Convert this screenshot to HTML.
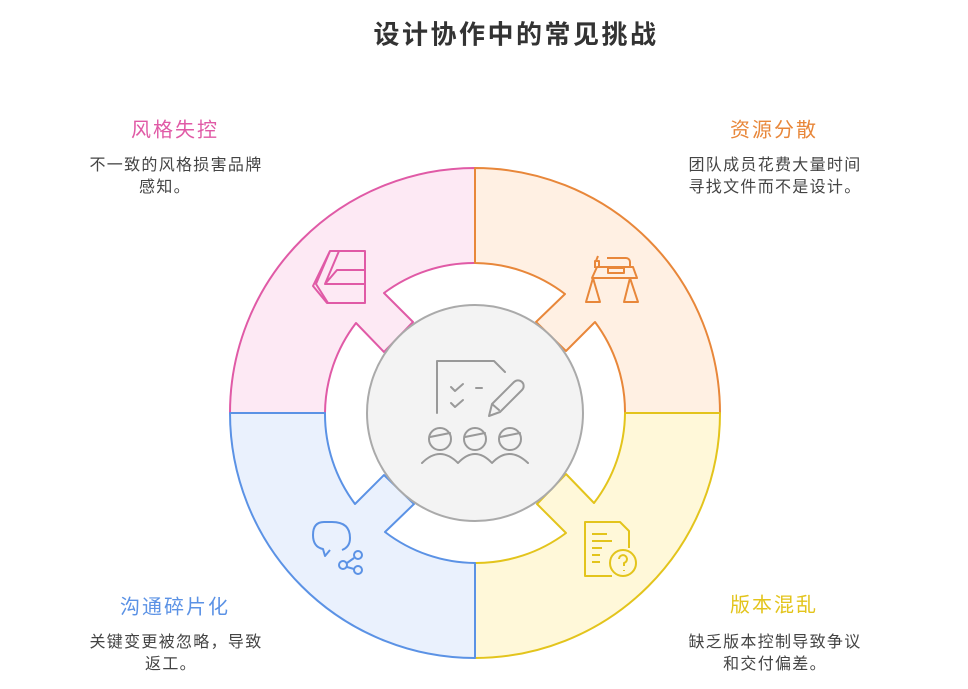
<!DOCTYPE html>
<html><head><meta charset="utf-8"><style>
html,body{margin:0;padding:0;background:#fff;}
body{width:968px;height:689px;position:relative;overflow:hidden;font-family:"Liberation Sans","Noto Sans CJK SC",sans-serif;}
.t{position:absolute;white-space:nowrap;transform:translate(-50%,-50%);}
.h{font-size:20px;letter-spacing:2px;}
.d{font-size:16px;letter-spacing:1.3px;color:#444;}
</style></head><body>
<svg width="968" height="689" style="position:absolute;left:0;top:0">
<defs>
<path id="q" d="M230,413 A245,245 0 0 1 475,168 L475,263 A150,150 0 0 0 384,293 L413,322 L384,352 L356,323 A150,150 0 0 0 325,413 Z" stroke-width="2" stroke-linejoin="round"/>
</defs>
<use href="#q" fill="#fde9f4" stroke="#e05aa6"/>
<use href="#q" fill="#fff0e3" stroke="#e8873a" transform="rotate(90 475 413)"/>
<use href="#q" fill="#fff8d9" stroke="#e3c41c" transform="rotate(180 475 413)"/>
<use href="#q" fill="#eaf1fd" stroke="#5b92e5" transform="rotate(270 475 413)"/>
<circle cx="475" cy="413" r="108" fill="#f3f3f3" stroke="#aaa" stroke-width="2"/>
<g fill="none" stroke="#999" stroke-width="2" stroke-linecap="round" stroke-linejoin="round">
<path d="M437,413 V361 H494 L505,372"/>
<path d="M451,387 l4,4 l8,-7 M476,388 h6 M451,403 l4,4 l8,-7"/>
<path d="M489,416 l3,-12 l22,-22 a4,4 0 0 1 8,8 l-22,22 z M492,404 l7,6"/>
<circle cx="440" cy="439" r="11"/><circle cx="475" cy="439" r="11"/><circle cx="510" cy="439" r="11"/>
<path d="M430,437 l20,-4 M465,437 l20,-4 M500,437 l20,-4"/>
<path d="M422,463 q18,-18 36,0 q17,-18 34,0 q17,-18 36,0"/>
</g>
<g fill="none" stroke="#e05aa6" stroke-width="2" stroke-linejoin="round">
<path d="M330,251 H365 V303 H327 L313,286 Z"/>
<path d="M330,251 L316,284 L328,303 M339,251 L325,284 H365 M325,284 L337,270 H365"/>
</g>
<g fill="none" stroke="#e8873a" stroke-width="2" stroke-linejoin="round">
<path d="M592,278 L597,267 H633 L637,278 Z"/>
<path d="M607,258 H626 a4,4 0 0 1 4,4 v6 M608,268 h16 v5 h-16z"/>
<path d="M595,268 v-7 h4 v7 M596,261 l2,-5"/>
<path d="M593,278 L586,302 H600 Z M630,278 L624,302 H638 Z"/>
</g>
<g fill="none" stroke="#5b92e5" stroke-width="2" stroke-linejoin="round">
<path d="M342,550 q8,-3 8,-12 q0,-16 -18,-16 h-8 q-11,0 -11,13 q0,12 10,14 l2,7 l5,-6"/>
<circle cx="343" cy="565" r="4"/><circle cx="358" cy="555" r="4"/><circle cx="358" cy="570" r="4"/>
<path d="M347,563 l7,-5 M347,567 l7,2"/>
</g>
<g fill="none" stroke="#e3c41c" stroke-width="2" stroke-linejoin="round">
<path d="M612,576 H585 V522 H620 L629,531 V548"/>
<path d="M592,534 h15 M592,541 h20 M592,548 h10 M592,555 h8 M592,562 h8"/>
<circle cx="623" cy="563" r="13"/>
<path d="M619,559 a4,4 0 1 1 5,4 v3 M624,570 v1"/>
</g>
</svg>
<div class="t" style="left:516px;top:33px;font-size:26px;font-weight:bold;color:#333;letter-spacing:2.5px">设计协作中的常见挑战</div>
<div class="t h" style="left:175px;top:128px;color:#e05aa6">风格失控</div>
<div class="t d" style="left:176px;top:163px">不一致的风格损害品牌</div>
<div class="t d" style="left:165px;top:185px">感知。</div>
<div class="t h" style="left:774px;top:128px;color:#e8873a">资源分散</div>
<div class="t d" style="left:775px;top:163px">团队成员花费大量时间</div>
<div class="t d" style="left:775px;top:185px">寻找文件而不是设计。</div>
<div class="t h" style="left:175px;top:605px;color:#5b92e5">沟通碎片化</div>
<div class="t d" style="left:176px;top:640px">关键变更被忽略，导致</div>
<div class="t d" style="left:171px;top:662px">返工。</div>
<div class="t h" style="left:774px;top:603px;color:#e3c41c">版本混乱</div>
<div class="t d" style="left:775px;top:640px">缺乏版本控制导致争议</div>
<div class="t d" style="left:775px;top:662px">和交付偏差。</div>
</body></html>
